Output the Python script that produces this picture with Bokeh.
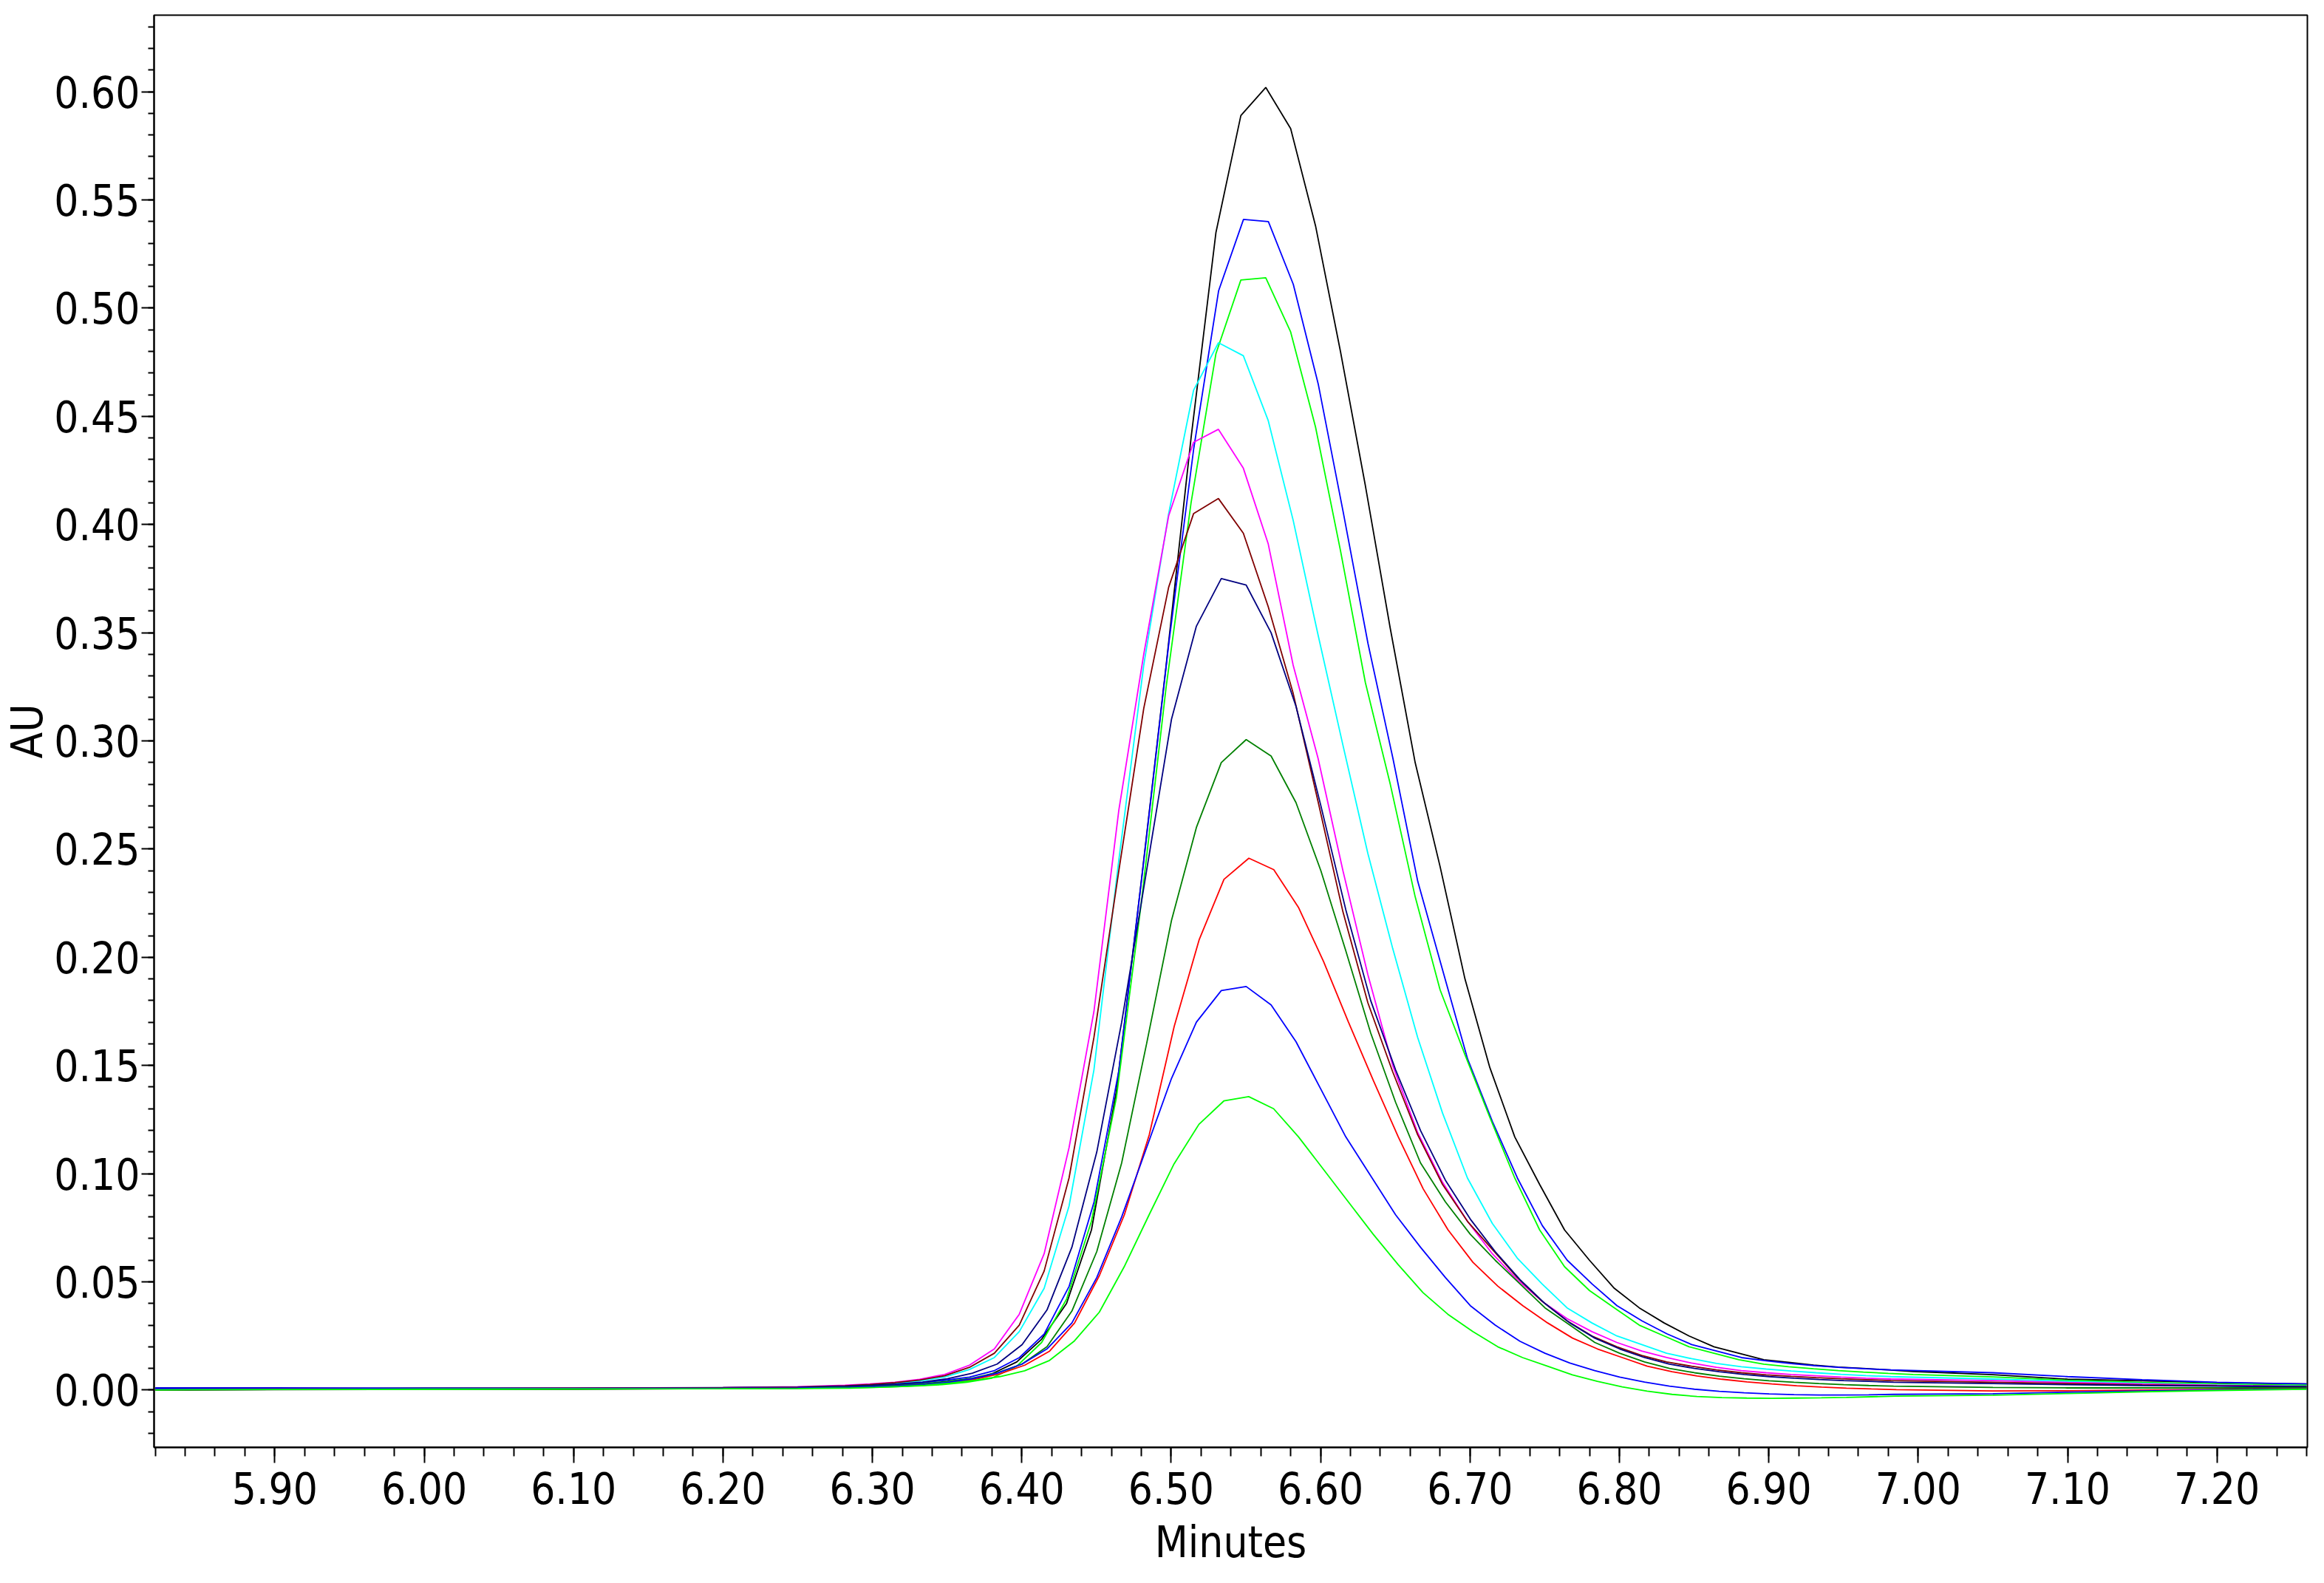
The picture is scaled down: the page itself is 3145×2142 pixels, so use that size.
import numpy as np
from bokeh.plotting import figure
from bokeh.models import Range1d, SingleIntervalTicker, PrintfTickFormatter
from bokeh.embed import file_html
from bokeh.resources import INLINE

# ---------------- data (AU vs minutes) ----------------
SAMPLE_RATE_PER_MIN = 60                       # 1 point per second
HEAD_T = [5.82, 5.90, 6.00, 6.10, 6.20, 6.25]  # sparse baseline before the peak
TAIL_T = [7.05, 7.10, 7.15, 7.20, 7.26]        # sparse baseline after the peak
PEAK_K = list(range(-16, 27))                  # sample index relative to apex sample

run_colors = ["#000000", "#0000FF", "#00FF00", "#00FFFF", "#FF00FF", "#800000",
              "#000080", "#008000", "#FF0000", "#0000FF", "#00FF00"]
run_apex_t = [6.5633, 6.5484, 6.5633, 6.5483, 6.5483, 6.5483,
              6.5502, 6.5502, 6.5520, 6.5502, 6.5519]

run1_head = [0.0000, 0.0002, 0.0003, 0.0004, 0.0007, 0.0010]
run1_peak = [0.0015, 0.0018, 0.0023, 0.0030, 0.0042, 0.0075, 0.0130, 0.0235, 0.040, 0.074,
             0.138, 0.235, 0.335, 0.440, 0.535, 0.589, 0.602, 0.583, 0.538, 0.480,
             0.418, 0.352, 0.290, 0.242, 0.190, 0.149, 0.117, 0.095, 0.074, 0.060,
             0.047, 0.038, 0.031, 0.025, 0.020, 0.017, 0.014, 0.0128, 0.0115, 0.0106,
             0.0100, 0.0093, 0.0086]
run1_tail = [0.0071, 0.0050, 0.0043, 0.0034, 0.0028]

run2_head = [0.0010, 0.0010, 0.0008, 0.0008, 0.0010, 0.0012]
run2_peak = [0.0016, 0.0019, 0.0024, 0.0032, 0.0045, 0.0060, 0.0090, 0.0150, 0.0260, 0.048,
             0.087, 0.148, 0.245, 0.345, 0.435, 0.508, 0.541, 0.540, 0.511, 0.465,
             0.406, 0.345, 0.292, 0.235, 0.194, 0.153, 0.124, 0.098, 0.076, 0.060,
             0.049, 0.039, 0.032, 0.026, 0.021, 0.018, 0.015, 0.0135, 0.0122, 0.0112,
             0.0104, 0.0098, 0.0093]
run2_tail = [0.0080, 0.0062, 0.0048, 0.0036, 0.0028]

run3_head = [0.0002, 0.0004, 0.0004, 0.0005, 0.0007, 0.0009]
run3_peak = [0.0012, 0.0015, 0.0019, 0.0025, 0.0036, 0.0055, 0.0110, 0.0220, 0.042, 0.078,
             0.135, 0.225, 0.325, 0.410, 0.479, 0.513, 0.514, 0.489, 0.445, 0.388,
             0.327, 0.280, 0.228, 0.185, 0.155, 0.126, 0.098, 0.074, 0.057, 0.046,
             0.038, 0.030, 0.025, 0.020, 0.017, 0.014, 0.012, 0.0108, 0.0098, 0.0090,
             0.0083, 0.0077, 0.0072]
run3_tail = [0.0061, 0.0045, 0.0035, 0.0028, 0.0022]

run4_head = [0.0005, 0.0005, 0.0006, 0.0007, 0.0010, 0.0014]
run4_peak = [0.0020, 0.0025, 0.0032, 0.0042, 0.0060, 0.0095, 0.0150, 0.0270, 0.047, 0.085,
             0.148, 0.245, 0.335, 0.405, 0.462, 0.484, 0.478, 0.448, 0.402, 0.349,
             0.298, 0.248, 0.204, 0.163, 0.128, 0.098, 0.077, 0.061, 0.049, 0.038,
             0.031, 0.025, 0.021, 0.017, 0.0145, 0.0123, 0.0108, 0.0097, 0.0088, 0.0080,
             0.0073, 0.0067, 0.0062]
run4_tail = [0.0051, 0.0040, 0.0031, 0.0024, 0.0018]

run5_head = [0.0003, 0.0004, 0.0006, 0.0008, 0.0011, 0.0015]
run5_peak = [0.0022, 0.0028, 0.0036, 0.0050, 0.0072, 0.0115, 0.0190, 0.0350, 0.063, 0.112,
             0.175, 0.268, 0.340, 0.404, 0.438, 0.444, 0.426, 0.391, 0.335, 0.292,
             0.240, 0.192, 0.150, 0.119, 0.096, 0.078, 0.063, 0.051, 0.041, 0.033,
             0.027, 0.022, 0.018, 0.015, 0.0125, 0.0105, 0.0090, 0.0080, 0.0072, 0.0066,
             0.0060, 0.0055, 0.0051]
run5_tail = [0.0044, 0.0035, 0.0028, 0.0022, 0.0017]

run6_head = [0.0003, 0.0004, 0.0006, 0.0008, 0.0011, 0.0014]
run6_peak = [0.0020, 0.0026, 0.0034, 0.0046, 0.0066, 0.0105, 0.0170, 0.0300, 0.055, 0.098,
             0.163, 0.240, 0.315, 0.371, 0.405, 0.412, 0.396, 0.362, 0.322, 0.272,
             0.221, 0.179, 0.147, 0.118, 0.095, 0.078, 0.065, 0.052, 0.041, 0.032,
             0.025, 0.020, 0.016, 0.013, 0.011, 0.0093, 0.0080, 0.0070, 0.0063, 0.0057,
             0.0052, 0.0048, 0.0044]
run6_tail = [0.0036, 0.0030, 0.0024, 0.0020, 0.0016]

run7_head = [0.0008, 0.0008, 0.0009, 0.0009, 0.0011, 0.0013]
run7_peak = [0.0018, 0.0022, 0.0028, 0.0037, 0.0052, 0.0078, 0.0120, 0.0210, 0.037, 0.066,
             0.110, 0.170, 0.240, 0.310, 0.353, 0.375, 0.372, 0.350, 0.316, 0.270,
             0.222, 0.180, 0.148, 0.120, 0.097, 0.079, 0.064, 0.051, 0.040, 0.031,
             0.024, 0.019, 0.015, 0.012, 0.010, 0.0085, 0.0072, 0.0062, 0.0055, 0.0049,
             0.0044, 0.0040, 0.0036]
run7_tail = [0.0030, 0.0025, 0.0021, 0.0018, 0.0015]

run8_head = [0.0002, 0.0003, 0.0004, 0.0005, 0.0008, 0.0010]
run8_peak = [0.0014, 0.0017, 0.0021, 0.0028, 0.0040, 0.0055, 0.0080, 0.0120, 0.0200, 0.0365,
             0.064, 0.105, 0.160, 0.217, 0.260, 0.290, 0.3006, 0.293, 0.2715, 0.240,
             0.203, 0.165, 0.133, 0.105, 0.087, 0.072, 0.060, 0.049, 0.038, 0.030,
             0.022, 0.017, 0.013, 0.0100, 0.0080, 0.0064, 0.0052, 0.0043, 0.0036, 0.0030,
             0.0025, 0.0021, 0.0018]
run8_tail = [0.0012, 0.0010, 0.0010, 0.0010, 0.0010]

run9_head = [0.0004, 0.0006, 0.0007, 0.0008, 0.0008, 0.0009]
run9_peak = [0.0011, 0.0014, 0.0018, 0.0024, 0.0034, 0.0050, 0.0075, 0.0115, 0.0180, 0.031,
             0.053, 0.081, 0.118, 0.168, 0.208, 0.236, 0.2458, 0.2405, 0.2229, 0.198,
             0.170, 0.143, 0.117, 0.093, 0.074, 0.059, 0.048, 0.039, 0.031, 0.024,
             0.019, 0.015, 0.011, 0.0085, 0.0065, 0.0050, 0.0038, 0.0028, 0.0020, 0.0014,
             0.0009, 0.0005, 0.0002]
run9_tail = [-0.0004, -0.0003, 0.0000, 0.0003, 0.0006]

run10_head = [0.0006, 0.0006, 0.0007, 0.0007, 0.0008, 0.0009]
run10_peak = [0.0012, 0.0015, 0.0019, 0.0025, 0.0035, 0.0052, 0.0078, 0.0120, 0.0190, 0.031,
              0.052, 0.080, 0.112, 0.144, 0.170, 0.1846, 0.1865, 0.178, 0.161, 0.139,
              0.117, 0.099, 0.081, 0.066, 0.052, 0.039, 0.030, 0.0225, 0.0170, 0.0125,
              0.0090, 0.0060, 0.0037, 0.0018, 0.0004, -0.0006, -0.0013, -0.0018, -0.0021, -0.0023,
              -0.0023, -0.0022, -0.0020]
run10_tail = [-0.0017, -0.0010, -0.0004, 0.0001, 0.0005]

run11_head = [0.0001, 0.0003, 0.0004, 0.0005, 0.0006, 0.0007]
run11_peak = [0.0009, 0.0012, 0.0016, 0.0022, 0.0032, 0.0045, 0.0062, 0.0089, 0.0137, 0.0227,
              0.036, 0.057, 0.081, 0.1045, 0.1228, 0.1336, 0.1356, 0.130, 0.117, 0.102,
              0.087, 0.072, 0.058, 0.045, 0.035, 0.027, 0.020, 0.015, 0.011, 0.0070,
              0.0040, 0.0015, -0.0005, -0.0020, -0.0030, -0.0035, -0.0037, -0.0038, -0.0037, -0.0036,
              -0.0034, -0.0031, -0.0028]
run11_tail = [-0.0024, -0.0016, -0.0008, -0.0002, 0.0004]

X_RANGE = (5.8192, 7.2605)
Y_RANGE = (-0.0265, 0.6354)
X_LABEL = "Minutes"
Y_LABEL = "AU"

heads = [run1_head, run2_head, run3_head, run4_head, run5_head, run6_head,
         run7_head, run8_head, run9_head, run10_head, run11_head]
peaks = [run1_peak, run2_peak, run3_peak, run4_peak, run5_peak, run6_peak,
         run7_peak, run8_peak, run9_peak, run10_peak, run11_peak]
tails = [run1_tail, run2_tail, run3_tail, run4_tail, run5_tail, run6_tail,
         run7_tail, run8_tail, run9_tail, run10_tail, run11_tail]

# ---------------- figure ----------------
FONT = "Noto Sans Condensed, DejaVu Sans Condensed, Liberation Sans, sans-serif"
FS = "58px"

p = figure(frame_width=2914, frame_height=1938,
           x_range=Range1d(*X_RANGE), y_range=Range1d(*Y_RANGE),
           output_backend="svg", toolbar_location=None,
           min_border_left=199, min_border_top=20, min_border_right=16,
           min_border_bottom=160)
p.background_fill_color = "white"
p.border_fill_color = "white"
p.outline_line_color = "black"
p.outline_line_width = 2
p.xgrid.grid_line_color = None
p.ygrid.grid_line_color = None

for col, t0, h, pk, tl in zip(run_colors, run_apex_t, heads, peaks, tails):
    t_peak = [t0 + k / SAMPLE_RATE_PER_MIN for k in PEAK_K]
    xs = list(HEAD_T) + t_peak + list(TAIL_T)
    ys = list(h) + list(pk) + list(tl)
    p.line(xs, ys, line_color=col, line_width=1.8)

p.xaxis.ticker = SingleIntervalTicker(interval=0.1, num_minor_ticks=5)
p.yaxis.ticker = SingleIntervalTicker(interval=0.05, num_minor_ticks=5)
for ax in (p.xaxis[0], p.yaxis[0]):
    ax.formatter = PrintfTickFormatter(format="%.2f")
    ax.major_label_text_font = FONT
    ax.major_label_text_font_size = FS
    ax.major_label_text_color = "black"
    ax.axis_label_text_font = FONT
    ax.axis_label_text_font_size = FS
    ax.axis_label_text_font_style = "normal"
    ax.axis_label_text_color = "black"
    ax.axis_line_width = 2
    ax.axis_line_color = "black"
    ax.major_tick_line_width = 2
    ax.minor_tick_line_width = 2
    ax.major_tick_line_color = "black"
    ax.minor_tick_line_color = "black"
    ax.major_tick_in = 0
    ax.minor_tick_in = 0

p.xaxis.axis_label = X_LABEL
p.yaxis.axis_label = Y_LABEL
p.xaxis.major_tick_out = 21
p.xaxis.minor_tick_out = 12
p.yaxis.major_tick_out = 17
p.yaxis.minor_tick_out = 8
p.xaxis.major_label_standoff = 12
p.yaxis.major_label_standoff = 2
p.xaxis.axis_label_standoff = 15
p.yaxis.axis_label_standoff = -1

open("out.html", "w").write(file_html(p, INLINE))
